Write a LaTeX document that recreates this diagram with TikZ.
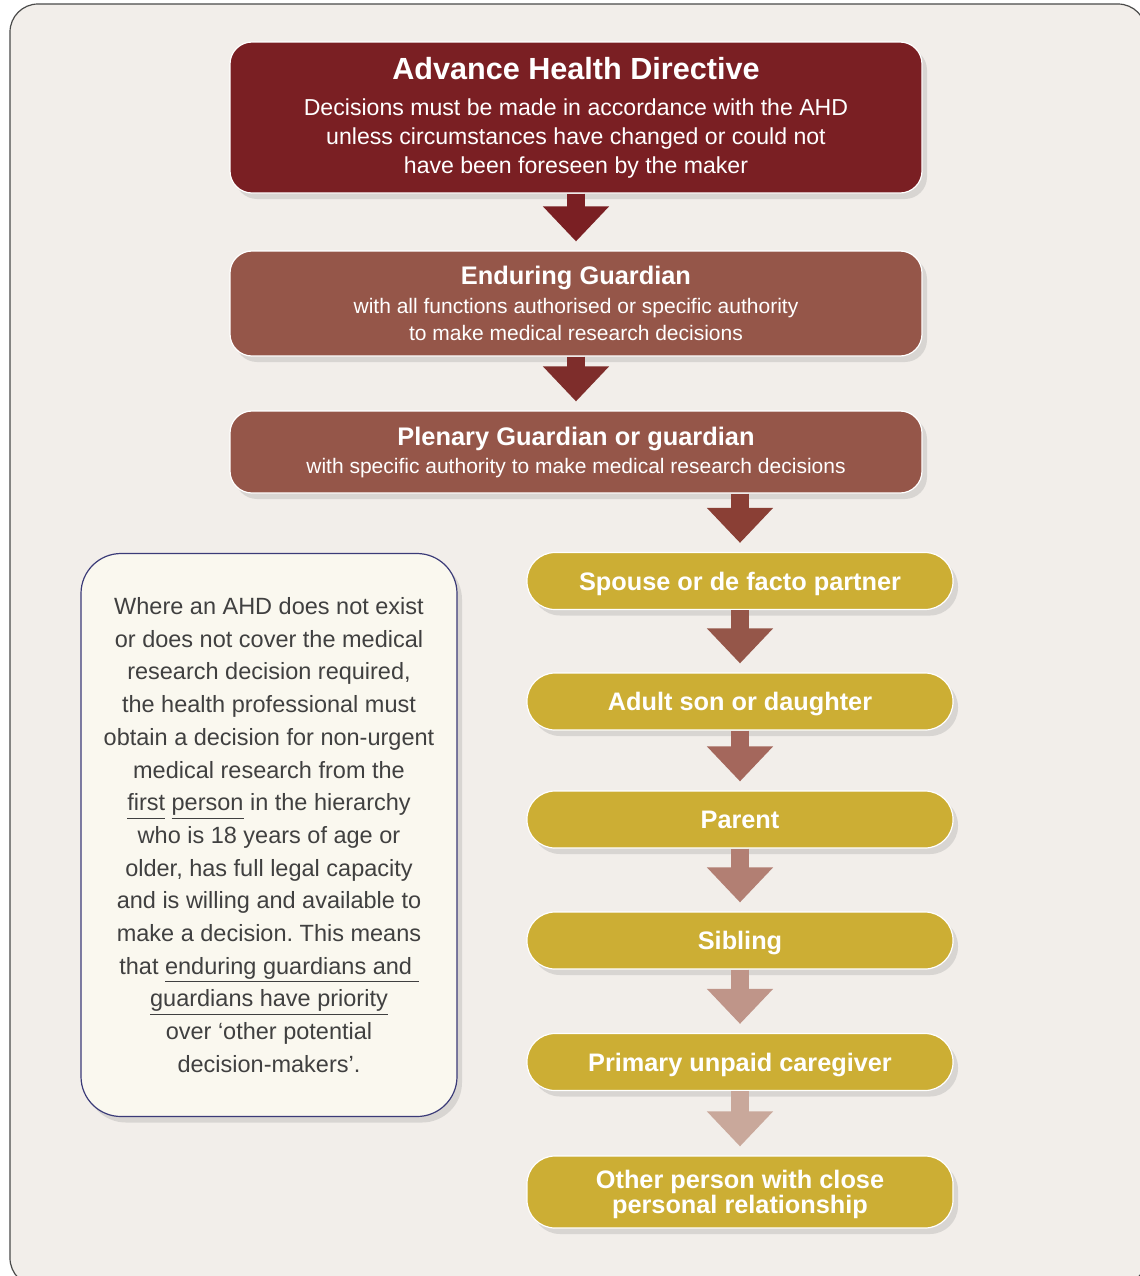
\documentclass[tikz,border=0pt]{standalone}
\usepackage{fontspec}
\setmainfont{Liberation Sans}
\usetikzlibrary{arrows.meta,shadows}

\newcommand\lineunder[1]{\underline{#1\vphantom{gp}}}
\frenchspacing

\definecolor{panel}{HTML}{F2EEEA}
\definecolor{framegray}{HTML}{4A4A4A}
\definecolor{ahdred}{HTML}{7A1F23}
\definecolor{guardbrown}{HTML}{955649}
\definecolor{kinyellow}{HTML}{CCAE34}
\definecolor{notecream}{HTML}{FAF8EF}
\definecolor{notenavy}{HTML}{3B3B78}
\definecolor{notegray}{HTML}{404040}
\definecolor{arrowA}{HTML}{7A1F23}
\definecolor{arrowB}{HTML}{7E2D2B}
\definecolor{arrowC}{HTML}{8A3F35}
\definecolor{arrowD}{HTML}{955649}
\definecolor{arrowE}{HTML}{A4675C}
\definecolor{arrowF}{HTML}{B27F73}
\definecolor{arrowG}{HTML}{BF9589}
\definecolor{arrowH}{HTML}{C9A89B}

\begin{document}
\begin{tikzpicture}[x=0.5pt, y=-0.5pt,
  toprow/.style={draw=white, line width=0.6pt, rounded corners=11pt,
    minimum width=346pt, align=center, text=white,
    drop shadow={shadow xshift=2.5pt, shadow yshift=-3pt, opacity=0.22}},
  kinrow/.style={draw=white, line width=0.6pt, rounded corners=14pt,
    fill=kinyellow, minimum width=213pt, minimum height=28.5pt,
    text height=9pt, text depth=0pt,
    align=center, text=white, font=\fontsize{12.65}{12.65}\selectfont\bfseries,
    drop shadow={shadow xshift=2.5pt, shadow yshift=-3pt, opacity=0.22}},
  downarrow/.style={line width=9pt, -{Triangle[width=32pt, length=17.5pt]},
    shorten >=4.5pt}
]

\def\xm{576}; % middle of the guardian column
\def\xk{740}; % middle of the kin column
\def\xn{269}; % middle of the note

\useasboundingbox (0,0) rectangle (1140,1276);

% panel
\begin{scope}
\clip (0,0) rectangle (1140,1276);
\draw[fill=panel, draw=framegray, line width=0.6pt, rounded corners=14pt]
  (10,4) rectangle (1146,1286);
\end{scope}

% guardians
\node[toprow, fill=ahdred, minimum height=75.5pt,
  font=\fontsize{11.55}{14.5}\selectfont] (ahd) at (\xm,117.5)
  {{\fontsize{15.3}{15.3}\selectfont\bfseries Advance Health Directive}\\[3.5pt]
   Decisions must be made in accordance with the AHD\\
   unless circumstances have changed or could not\\
   have been foreseen by the maker};

\node[toprow, fill=guardbrown, minimum height=52.5pt,
  font=\fontsize{10.5}{13.5}\selectfont] (eg) at (\xm,303.5)
  {{\fontsize{12.7}{12.7}\selectfont\bfseries Enduring Guardian}\\[1pt]
   with all functions authorised or specific authority\\
   to make medical research decisions};

\node[toprow, fill=guardbrown, minimum height=41pt,
  font=\fontsize{10.5}{13.5}\selectfont] (plen) at (\xm,452)
  {{\fontsize{12.7}{12.7}\selectfont\bfseries Plenary Guardian or guardian}\\[0.5pt]
   with specific authority to make medical research decisions\vphantom{g}};

% hierarchy of kin
\node[kinrow] (spouse) at (\xk,581) {Spouse or de facto partner};
\node[kinrow] (child) at (\xk,701.5) {Adult son or daughter};
\node[kinrow] (parent) at (\xk,819.5) {Parent};
\node[kinrow] (sibling) at (\xk,940.5) {Sibling};
\node[kinrow] (carer) at (\xk,1062) {Primary unpaid caregiver};
\node[kinrow, minimum height=36pt, text height=21.5pt] (other) at (\xk,1192)
  {Other person with close\\personal relationship};

% note
\node[draw=notenavy, line width=0.6pt, fill=notecream, rounded corners=20pt,
  minimum width=188pt, minimum height=281.5pt, align=center, text=notegray,
  font=\fontsize{11.75}{16.35}\selectfont,
  drop shadow={shadow xshift=2.5pt, shadow yshift=-3pt, opacity=0.22}]
  (note) at (\xn,835)
  {Where an AHD does not exist\\
   or does not cover the medical\\
   research decision required,\\
   the health professional must\\
   obtain a decision for non-urgent\\
   medical research from the\\
   \lineunder{first} \lineunder{person} in the hierarchy\\
   who is 18 years of age or\\
   older, has full legal capacity\\
   and is willing and available to\\
   make a decision. This means\\
   that \lineunder{enduring guardians and\ }\\
   \lineunder{guardians have priority}\\
   over ‘other potential\\
   decision-makers’.};

% arrows
\draw[downarrow, arrowA] (ahd) -- (eg);
\draw[downarrow, arrowB] (eg) -- (plen);
\draw[downarrow, arrowC] (plen.south -| spouse.north) -- (spouse.north);
\draw[downarrow, arrowD] (spouse) -- (child);
\draw[downarrow, arrowE] (child) -- (parent);
\draw[downarrow, arrowF] (parent) -- (sibling);
\draw[downarrow, arrowG] (sibling) -- (carer);
\draw[downarrow, arrowH] (carer) -- (other);

\end{tikzpicture}
\end{document}
